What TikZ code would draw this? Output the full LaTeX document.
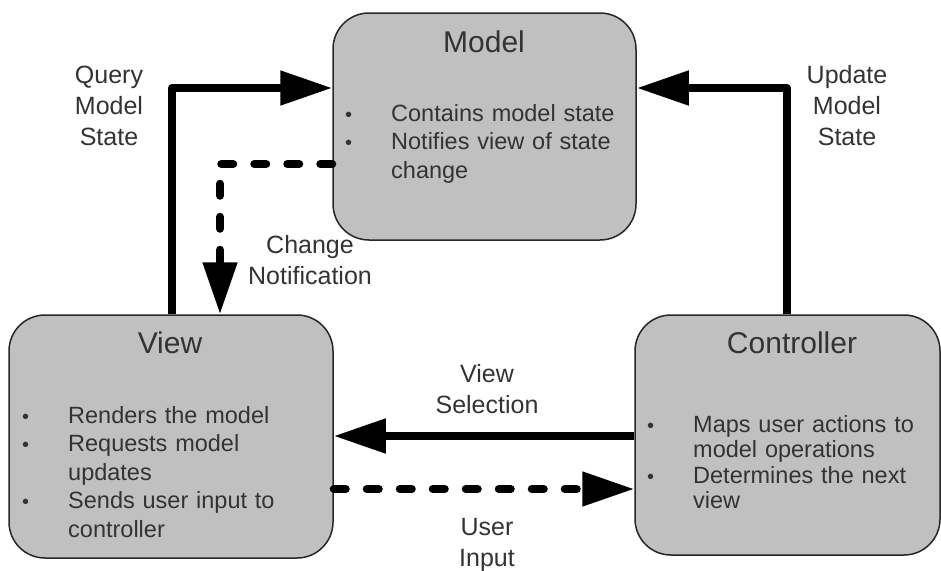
\documentclass[tikz,border=0pt]{standalone}
\usepackage{fontspec}
\setmainfont{Liberation Sans}
\usetikzlibrary{arrows.meta}
\definecolor{boxfill}{HTML}{C0C0C0}
\definecolor{txt}{HTML}{333333}
\newcommand\mvcbul{\leavevmode\llap{{\fontsize{20}{20}\selectfont\textbullet}\hspace{39pt}}}
\begin{document}
\begin{tikzpicture}[x=1pt,y=-1pt,
 box/.style={draw=black!85, line width=1.5pt, fill=boxfill, rounded corners=36pt, inner sep=0pt},
 title/.style={font=\fontsize{30}{36}\selectfont, text=txt, anchor=base, inner sep=0pt},
 body/.style={font=\fontsize{23.5}{28.5}\selectfont, text=txt, anchor=base west, inner sep=0pt, text width=250pt, align=left},
 lbl/.style={font=\fontsize{25}{31}\selectfont, text=txt, anchor=base, inner sep=0pt, text width=160pt, align=center},
 conn/.style={line width=8pt, line join=round, -{Triangle[length=52pt,width=33pt]}},
 dashconn/.style={conn, line cap=round, dash pattern=on 12pt off 21pt},
]
\useasboundingbox (0,0) rectangle (941,570);

% boxes
\node[box, minimum width=303pt, minimum height=227pt] (model) at (484.5,126.5) {};
\node[box, minimum width=324pt, minimum height=243pt] (view) at (171,436.5) {};
\node[box, minimum width=305pt, minimum height=240pt] (ctrl) at (787.5,435) {};

% titles
\node[title] (modelT) at (484,52) {Model};
\node[title] (viewT) at (170,353) {View};
\node[title] (ctrlT) at (792,353) {Controller};

% bodies
\node[body] (modelB) at (391,121) {\mvcbul Contains model state\\\mvcbul Notifies view of state\\change};
\node[body] (viewB) at (68,423) {\mvcbul Renders the model\\\mvcbul Requests model\\updates\\\mvcbul Sends user input to\\controller};
\node[body, font=\fontsize{23.5}{25.5}\selectfont] (ctrlB) at (693,432) {\mvcbul Maps user actions to\\model operations\\\mvcbul Determines the next\\view};

% connector helper points
\coordinate (q) at (172,88);
\coordinate (u) at (787,88);
\coordinate (c) at (220,164);
\coordinate (vs) at (0,436);
\coordinate (ui) at (0,489);

% connectors
\draw[conn] (view.north -| q) -- (q) -- (model.west |- q);
\draw[conn] (ctrl.north -| u) -- (u) -- (model.east |- u);
\draw[dashconn] (model.west |- c) -- (c) -- (view.north -| c);
\draw[conn] (ctrl.west |- vs) -- (view.east |- vs);
\draw[dashconn] (view.east |- ui) -- (ctrl.west |- ui);

% labels
\node[lbl] (lq) at (109,83) {Query\\Model\\State};
\node[lbl] (lu) at (847,83) {Update\\Model\\State};
\node[lbl] (lc) at (310,253) {Change\\Notification};
\node[lbl] (lv) at (487,382) {View\\Selection};
\node[lbl] (li) at (487,535) {User\\Input};
\end{tikzpicture}
\end{document}
